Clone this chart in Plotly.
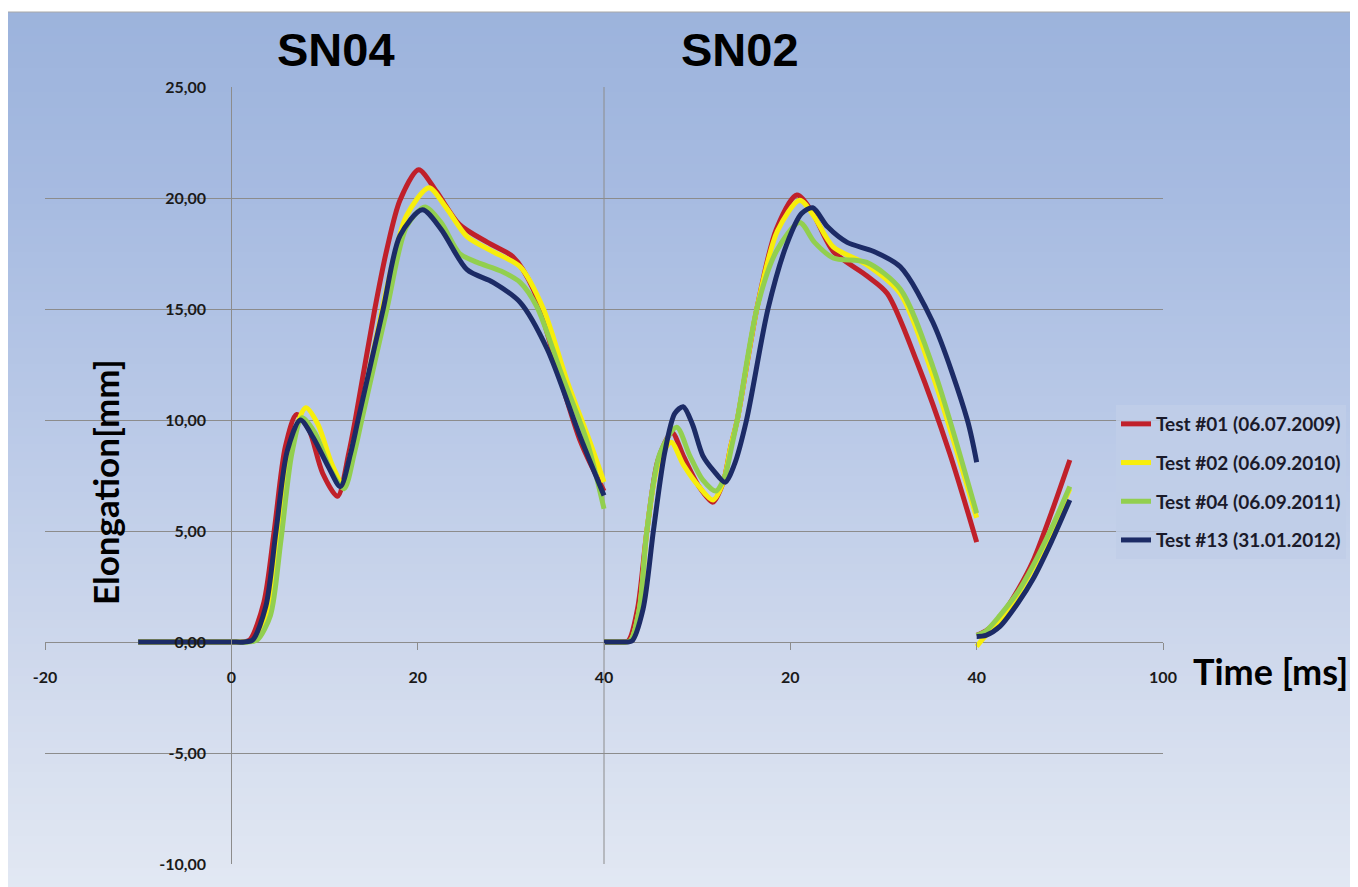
import plotly.graph_objects as go

# ---------------- data (composite time axis) ----------------
series_names = ["Test #01 (06.07.2009)", "Test #02 (06.09.2010)",
                "Test #04 (06.09.2011)", "Test #13 (31.01.2012)"]
series_colors = ["#c0202a", "#f7ee0c", "#92cf4f", "#1c2b66"]

# SN04 segment
sn04_red_x = [-10, -5, 0, 1.2, 2.0, 3.5, 4.6, 5.8, 7.0, 8.3, 9.8, 11.4, 12.6, 13.3, 15.4, 16.7, 18.1, 20.1, 22.0, 24.5, 27.5, 30.2, 32.4, 35.0, 37.5, 40]
sn04_red_y = [0, 0, 0, 0, 0.1, 1.8, 5.0, 8.8, 10.25, 9.6, 7.6, 6.56, 8.5, 10.0, 15.0, 17.7, 19.9, 21.27, 20.3, 18.8, 18.0, 17.36, 15.9, 12.3, 9.0, 6.8]
sn04_yel_x = [-10, -5, 0, 1.5, 2.5, 4.0, 5.2, 6.5, 8.0, 9.3, 10.8, 11.9, 13.0, 13.7, 16.2, 17.5, 18.8, 21.2, 23.0, 25.3, 28.0, 31.0, 33.5, 36.0, 38.5, 40]
sn04_yel_y = [0, 0, 0, 0, 0.1, 1.5, 5.0, 9.0, 10.55, 9.8, 8.0, 7.2, 8.8, 10.0, 15.0, 17.4, 19.2, 20.46, 19.6, 18.26, 17.6, 16.9, 15.0, 11.8, 9.0, 7.2]
sn04_grn_x = [-10, -5, 0, 1.8, 2.8, 4.2, 5.3, 6.5, 7.6, 9.0, 10.6, 12.1, 13.2, 14.0, 16.7, 18.8, 20.8, 22.5, 24.5, 26.4, 29.0, 31.0, 32.8, 35.5, 38.2, 40]
sn04_grn_y = [0, 0, 0, 0, 0.1, 1.2, 4.5, 8.5, 10.1, 9.4, 7.8, 6.9, 8.5, 10.0, 15.0, 18.7, 19.6, 18.9, 17.5, 17.1, 16.7, 16.2, 15.1, 12.0, 9.0, 6.0]
sn04_nav_x = [-10, -5, 0, 1.4, 2.3, 3.7, 4.8, 6.0, 7.4, 8.8, 10.4, 11.7, 12.8, 13.6, 16.3, 18.1, 20.5, 22.5, 25.3, 28.1, 31.0, 33.9, 37.4, 40]
sn04_nav_y = [0, 0, 0, 0, 0.1, 1.6, 5.0, 8.6, 10.0, 9.2, 7.9, 7.0, 8.5, 10.0, 15.0, 18.3, 19.47, 18.6, 16.77, 16.2, 15.3, 13.2, 9.3, 6.6]

# SN02 segment
sn02_red_x = [40, 41.5, 42.6, 43.6, 44.6, 45.8, 47.3, 48.5, 50.2, 51.7, 52.8, 53.6, 54.3, 56.4, 58.5, 60.7, 62.3, 64.6, 68.2, 70.4, 73.6, 77.1, 80]
sn02_red_y = [0, 0, 0.05, 1.5, 5.0, 8.2, 9.44, 8.4, 7.0, 6.3, 7.2, 8.8, 10.0, 15.0, 18.6, 20.14, 19.4, 17.6, 16.5, 15.7, 12.6, 8.5, 4.5]
sn02_yel_x = [40, 41.5, 42.8, 43.8, 44.6, 45.8, 47.2, 48.5, 50.2, 51.7, 52.8, 53.6, 54.3, 56.4, 58.6, 61.0, 62.5, 64.6, 68.2, 71.8, 75.3, 80]
sn02_yel_y = [0, 0, 0.05, 1.5, 5.0, 8.0, 9.0, 8.0, 7.0, 6.4, 7.2, 8.8, 10.0, 15.0, 18.5, 19.9, 19.2, 17.8, 17.0, 15.7, 12.0, 5.6]
sn02_grn_x = [40, 41.5, 42.8, 43.8, 44.6, 46.0, 47.8, 49.2, 50.6, 52.0, 53.0, 53.7, 54.3, 56.4, 58.5, 61.0, 62.6, 64.6, 68.2, 71.8, 75.3, 80]
sn02_grn_y = [0, 0, 0.05, 1.5, 5.0, 8.5, 9.67, 8.4, 7.3, 6.8, 7.5, 8.8, 10.0, 15.0, 17.6, 18.9, 18.0, 17.3, 17.1, 15.9, 12.4, 5.8]
sn02_nav_x = [40, 41.8, 43.0, 44.2, 45.3, 46.5, 47.6, 48.5, 49.5, 50.6, 51.8, 53.0, 54.0, 55.3, 57.6, 59.6, 61.2, 62.4, 64.0, 66.1, 68.9, 71.8, 75.3, 79.0, 80]
sn02_nav_y = [0, 0, 0.05, 1.5, 5.0, 8.5, 10.3, 10.6, 9.8, 8.4, 7.7, 7.2, 8.0, 10.0, 15.0, 17.9, 19.3, 19.56, 18.7, 18.0, 17.6, 16.9, 14.4, 10.0, 8.1]

# tail segment
tail_x = [80, 81, 82.5, 84.5, 86, 88, 90]
tail_red_y = [0.3, 0.5, 1.1, 2.4, 3.6, 5.8, 8.2]
tail_yel_y = [-0.2, 0.3, 0.9, 2.2, 3.3, 5.0, 6.9]
tail_grn_y = [0.3, 0.5, 1.2, 2.3, 3.4, 5.1, 7.0]
tail_nav_y = [0.25, 0.3, 0.7, 1.8, 2.8, 4.5, 6.4]

x_tickvals = [-20, 0, 20, 40, 60, 80, 100]
x_ticktext = ["-20", "0", "20", "40", "20", "40", "100"]
y_tickvals = [-10, -5, 0, 5, 10, 15, 20, 25]
y_ticktext = ["-10,00", "-5,00", "0,00", "5,00", "10,00", "15,00", "20,00", "25,00"]

segments = [
    (sn04_red_x, sn04_red_y, sn02_red_x, sn02_red_y, tail_red_y),
    (sn04_yel_x, sn04_yel_y, sn02_yel_x, sn02_yel_y, tail_yel_y),
    (sn04_grn_x, sn04_grn_y, sn02_grn_x, sn02_grn_y, tail_grn_y),
    (sn04_nav_x, sn04_nav_y, sn02_nav_x, sn02_nav_y, tail_nav_y),
]

fig = go.Figure()
for name, color, (ax, ay, bx, by, ty) in zip(series_names, series_colors, segments):
    xs = list(ax) + [None] + list(bx) + [None] + list(tail_x)
    ys = list(ay) + [None] + list(by) + [None] + list(ty)
    fig.add_trace(go.Scatter(
        x=xs, y=ys, name=name, mode="lines", connectgaps=False,
        line=dict(color=color, width=5, shape="spline", smoothing=0.8),
        legendgroup=name,
    ))

# ---------------- layout ----------------
# page body has an 8px margin: figure is placed at (8, 8)
W, H = 1350, 879
ML, MR, MT, MB = 37, 195, 79, 23
PLOT_TOP, PLOT_BOTTOM, PLOT_LEFT, PLOT_W = 87, 864, 45, 1118
plot_h = PLOT_BOTTOM - PLOT_TOP


def py2paper(py):
    return (PLOT_BOTTOM - py) / plot_h


def px2paper(px):
    return (px - PLOT_LEFT) / PLOT_W


shapes = []
# background gradient
stops = [(12, (156, 179, 220)), (200, (167, 187, 225)), (450, (188, 203, 232)),
         (650, (206, 216, 236)), (887, (226, 232, 243))]
band = 8
py = 12
while py < 887:
    py2 = min(py + band, 887)
    mid = (py + py2) / 2
    for (a, ca), (b, cb) in zip(stops[:-1], stops[1:]):
        if a <= mid <= b:
            t = (mid - a) / (b - a)
            c = tuple(int(round(ca[i] + (cb[i] - ca[i]) * t)) for i in range(3))
            break
    shapes.append(dict(type="rect", xref="paper", yref="paper",
                       x0=-0.05, x1=1.2, y0=py2paper(py2), y1=py2paper(py),
                       fillcolor="rgb(%d,%d,%d)" % c, line=dict(width=0), layer="below"))
    py = py2

# thin top border of the chart area
shapes.append(dict(type="line", xref="paper", yref="paper", x0=-0.05, x1=1.2,
                   y0=py2paper(12), y1=py2paper(12),
                   line=dict(color="#a8a8a8", width=1), layer="below"))
# vertical divider line at the SN02 origin
shapes.append(dict(type="line", xref="x", yref="y", x0=40, x1=40, y0=-10, y1=25,
                   line=dict(color="#8c8c8c", width=1), layer="below"))

fig.update_layout(
    width=W, height=H,
    margin=dict(l=ML, r=MR, t=MT, b=MB, pad=0),
    paper_bgcolor="white",
    plot_bgcolor="rgba(0,0,0,0)",
    shapes=shapes,
    showlegend=True,
    legend=dict(x=px2paper(1116), y=py2paper(405), xanchor="left", yanchor="top",
                bgcolor="rgba(192,206,232,0.85)", borderwidth=0,
                font=dict(family="Lato", size=19, color="#1a1a2a", weight="bold"),
                tracegroupgap=11, traceorder="grouped",
                itemwidth=30),
    xaxis=dict(range=[-20, 100], tickvals=x_tickvals, ticktext=x_ticktext,
               showgrid=False, zeroline=False, showline=False,
               anchor="free", position=10 / 35,
               ticks="outside", ticklen=7, tickcolor="#8c8c8c", tickwidth=1,
               ticklabelstandoff=14,
               tickfont=dict(family="Lato", size=16, color="#1a1a1a", weight="bold")),
    yaxis=dict(range=[-10, 25], tickvals=y_tickvals, ticktext=y_ticktext,
               showgrid=True, gridcolor="#8c8c8c", gridwidth=1,
               zeroline=False, showline=True, linecolor="#8c8c8c", linewidth=1,
               anchor="free", position=20 / 120,
               ticks="", ticklabelstandoff=22,
               tickfont=dict(family="Lato", size=16, color="#1a1a1a", weight="bold")),
    annotations=[
        dict(text="<b>SN04</b>", x=px2paper(336), y=py2paper(50), xref="paper", yref="paper",
             xanchor="center", yanchor="middle",
             showarrow=False, font=dict(family="Liberation Sans", size=47, color="black")),
        dict(text="<b>SN02</b>", x=px2paper(740), y=py2paper(50), xref="paper", yref="paper",
             xanchor="center", yanchor="middle",
             showarrow=False, font=dict(family="Liberation Sans", size=47, color="black")),
        dict(text="Elongation[mm]", x=px2paper(105), y=py2paper(482), xref="paper", yref="paper",
             xanchor="center", yanchor="middle", textangle=-90, showarrow=False,
             font=dict(family="Lato", size=35, color="black", weight="bold")),
        dict(text="Time [ms]", x=px2paper(1270), y=py2paper(671), xref="paper", yref="paper",
             xanchor="center", yanchor="middle", showarrow=False,
             font=dict(family="Lato", size=36, color="black", weight="bold")),
    ],
)

fig.write_html("out.html")
